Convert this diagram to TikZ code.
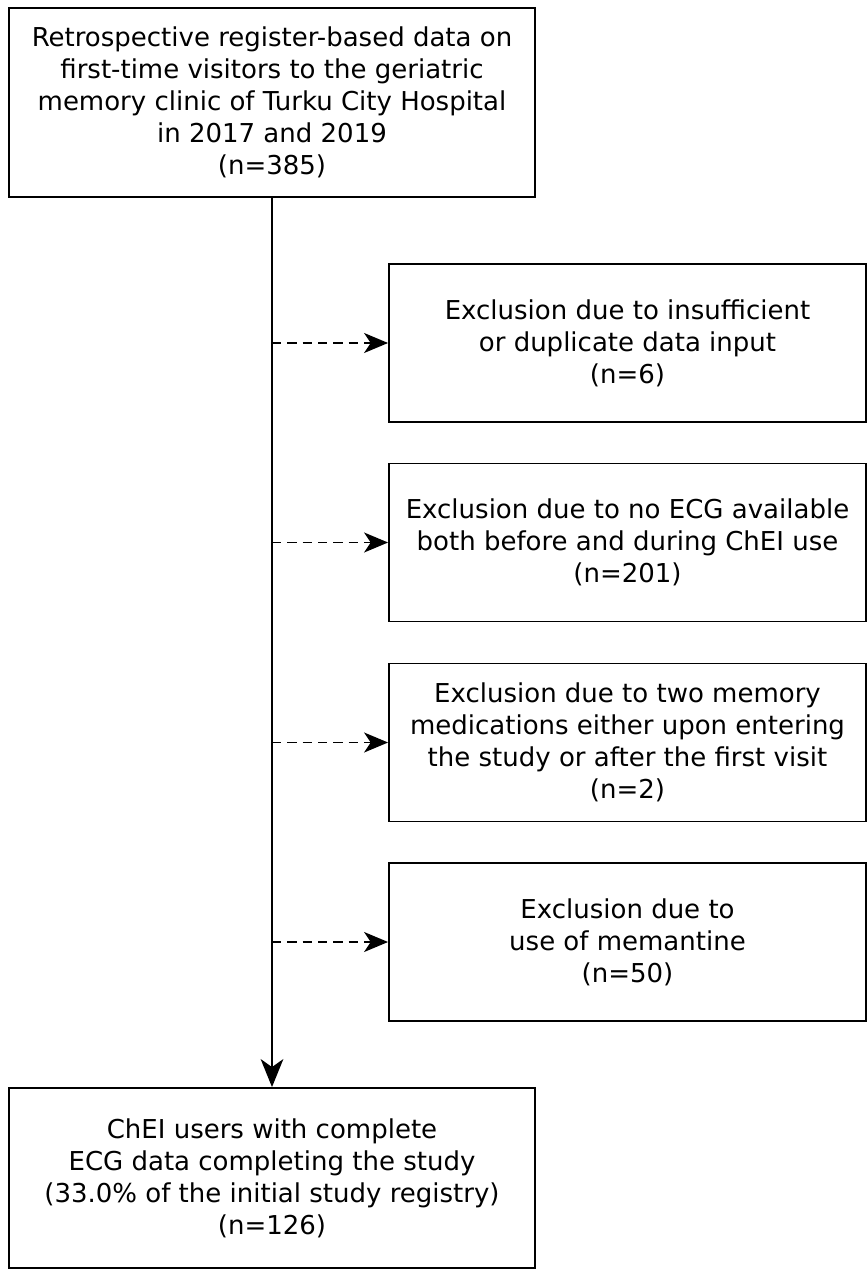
\documentclass[tikz,border=0pt]{standalone}
\usepackage{fontspec}
\setmainfont{DejaVu Sans}
\usepackage{tikz}
\usetikzlibrary{arrows.meta}

\begin{document}
\begin{tikzpicture}[x=0.75pt, y=0.75pt]
\tikzstyle{stagebox} = [draw, rectangle, line width = 1.4pt, align = center, inner sep = 0pt, font = \fontsize{19.5}{24}\selectfont]
\tikzstyle{mainbox} = [stagebox, minimum width = 394.5pt]
\tikzstyle{exclbox} = [stagebox, minimum width = 357.75pt, minimum height = 118.5pt]
\tikzset{flow/.style = {line width = 1.4pt, -{Stealth[length = 21pt, width = 17pt, inset = 6pt]}},
  dropout/.style = {flow, dash pattern = on 7pt off 4.5pt, -{Stealth[length = 18pt, width = 15pt, inset = 5pt]}}}
\useasboundingbox (0,0) rectangle (867,-1270);

\node [ mainbox, minimum height = 141.75pt ] (registry) at (272,-102.5) {Retrospective register-based data on\\ first-time visitors to the geriatric\\ memory clinic of Turku City Hospital\\ in 2017 and 2019\\ (n=385)};
\node [ exclbox ] (insuff) at (627.5,-343) {Exclusion due to insufficient\\ or duplicate data input\\ (n=6)};
\node [ exclbox ] (noecg) at (627.5,-542.5) {Exclusion due to no ECG available\\ both before and during ChEI use\\ (n=201)};
\node [ exclbox ] (twomed) at (627.5,-742.5) {Exclusion due to two memory\\ medications either upon entering\\ the study or after the first visit\\ (n=2)};
\node [ exclbox ] (meman) at (627.5,-942) {Exclusion due to\\ use of memantine\\ (n=50)};
\node [ mainbox, minimum height = 135pt ] (final) at (272,-1178) {ChEI users with complete\\ ECG data completing the study\\ (33.0\% of the initial study registry)\\ (n=126)};

\draw [flow] (registry) -- (final);
\foreach \ex/\j in {insuff/j1, noecg/j2, twomed/j3, meman/j4} {
  \coordinate (\j) at (registry.south |- \ex.west);
  \draw [dropout] (\j) -- (\ex.west);
}
\end{tikzpicture}
\end{document}
